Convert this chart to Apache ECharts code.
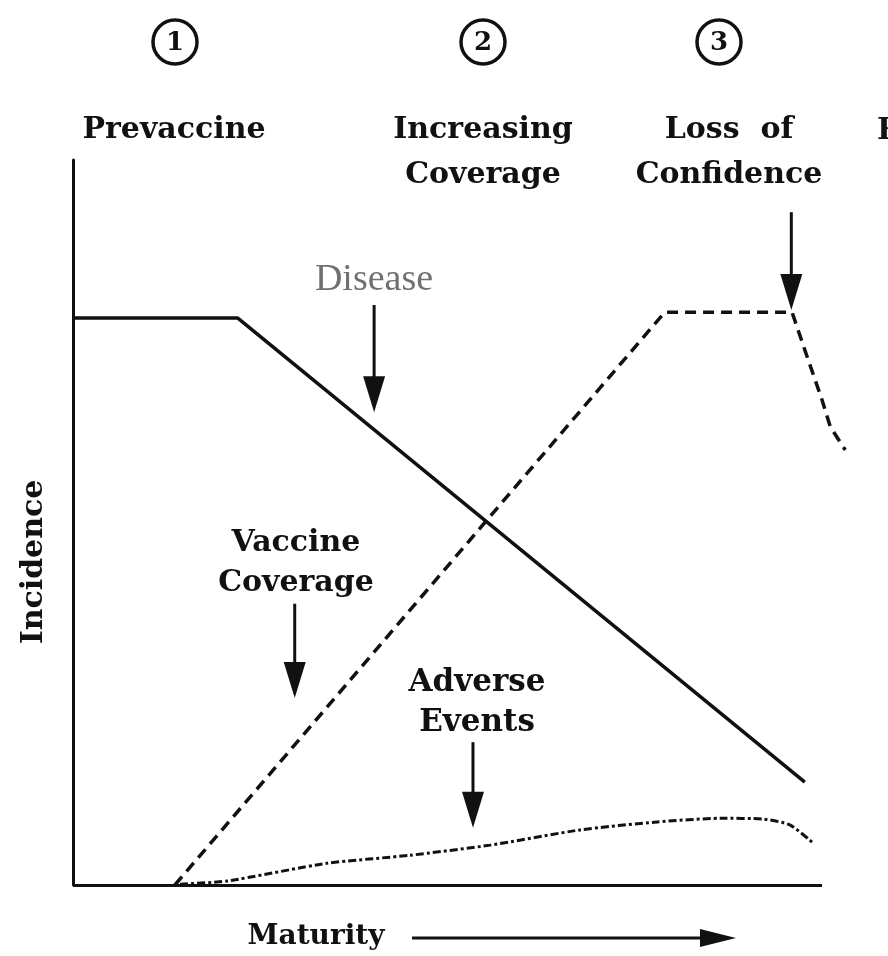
<!DOCTYPE html>
<html><head><meta charset="utf-8">
<script src="https://cdn.jsdelivr.net/npm/echarts@6/dist/echarts.min.js"></script>
<style>html,body{margin:0;padding:0;background:#fff}#c{width:888px;height:956px}</style>
</head><body><div id="c"></div>
<script>
// Data (x: maturity 0-100, y: incidence 0-100)
const diseaseData = [[0,78.2],[22.0,78.2],[97.7,14.2]];
const vaccineData = [[13.6,0],[79.0,79.0],[96.0,79.0],[97.7,73.8],[100.0,66.9],[101.1,63.2],[103.1,60.0]];
const adverseData = [[14.3,0.1],[20.6,0.55],[33.9,3.0],[45.0,4.1],[55.7,5.5],[67.7,7.6],[78.0,8.7],[86.4,9.2],[92.1,9.1],[95.7,8.3],[98.8,5.8]];
const stageNumbers = ['1','2','3'];
const stageLabels = ['Prevaccine','Increasing\nCoverage','Loss  of\nConfidence','Resumption'];
// arrows: [x, yTop, yTip] in data coords
const arrowsData = [[40.2,80.0,65.2],[95.9,92.8,79.3],[29.6,38.8,25.8],[53.4,19.7,7.9]];
const xAxisEnd = 100;

const chart = echarts.init(document.getElementById('c'));
const FONT = "'DejaVu Serif', serif";
chart.setOption({
  animation:false,
  backgroundColor:'#fff',
  grid:{left:73,right:36,top:160,bottom:71},
  xAxis:{type:'value',min:0,max:104,axisLine:{show:false},axisTick:{show:false},axisLabel:{show:false},splitLine:{show:false}},
  yAxis:{type:'value',min:0,max:100,axisLine:{show:true,onZero:false,lineStyle:{color:'#111',width:3}},axisTick:{show:false},axisLabel:{show:false},splitLine:{show:false}},
  series:[
    {name:'Disease',type:'line',data:diseaseData,showSymbol:false,symbol:'none',lineStyle:{color:'#111',width:3.5},
      markLine:{silent:true,symbol:['none','none'],label:{show:false},lineStyle:{color:'#111',width:3,type:'solid'},
        data:[[{coord:[0,0]},{coord:[xAxisEnd,0]}]]}},
    {name:'Vaccine Coverage',type:'line',data:vaccineData,showSymbol:false,symbol:'none',lineStyle:{color:'#111',width:3.5,type:[11,7]}},
    {name:'Adverse Events',type:'line',data:adverseData,showSymbol:false,symbol:'none',smooth:0.2,lineStyle:{color:'#111',width:3,type:[8,3,3,3]}}
  ]
});

function P(x,y){return chart.convertToPixel({gridIndex:0},[x,y]);}
const g = [];
function txt(s,x,y,opt){g.push({type:'text',x:x,y:y,style:Object.assign({text:s,fill:'#111',font:"bold 30px "+FONT,align:'center',verticalAlign:'middle',lineHeight:45},opt||{})});}
// circled numbers
const circX=[175,483,719];
stageNumbers.forEach((n,i)=>{
  g.push({type:'circle',shape:{cx:circX[i],cy:42,r:22},style:{fill:'#fff',stroke:'#111',lineWidth:3.5}});
  txt(n,circX[i],43,{font:"bold 26px "+FONT});
});
txt(stageLabels[0],174,130);
txt(stageLabels[1],483,153);
txt(stageLabels[2],729,153);
g.push({type:'text',x:877,y:131,style:{text:stageLabels[3],fill:'#111',font:"bold 30px "+FONT,align:'left',verticalAlign:'middle'}});
// series labels
txt('Disease',374,280,{font:"38px 'Liberation Serif', serif",fill:'#707070'});
txt('Vaccine\nCoverage',296,563,{lineHeight:40});
txt('Adverse\nEvents',477,703,{lineHeight:40,font:"bold 31px "+FONT});
// axis titles
g.push({type:'text',x:34,y:562,rotation:Math.PI/2,style:{text:'Incidence',fill:'#111',font:"bold 30px "+FONT,align:'center',verticalAlign:'middle'}});
txt('Maturity',316,937,{font:"bold 28px "+FONT});
// maturity arrow
g.push({type:'line',shape:{x1:412,y1:938,x2:705,y2:938},style:{stroke:'#111',lineWidth:3}});
g.push({type:'polygon',shape:{points:[[700,929],[736,938],[700,947]]},style:{fill:'#111'}});
// down arrows
arrowsData.forEach(a=>{
  const top=P(a[0],a[1]), tip=P(a[0],a[2]);
  g.push({type:'line',shape:{x1:top[0],y1:top[1],x2:tip[0],y2:tip[1]-20},style:{stroke:'#111',lineWidth:3}});
  g.push({type:'polygon',shape:{points:[[tip[0]-11,tip[1]-36],[tip[0]+11,tip[1]-36],[tip[0],tip[1]]]},style:{fill:'#111'}});
});
chart.setOption({graphic:g});
</script></body></html>
